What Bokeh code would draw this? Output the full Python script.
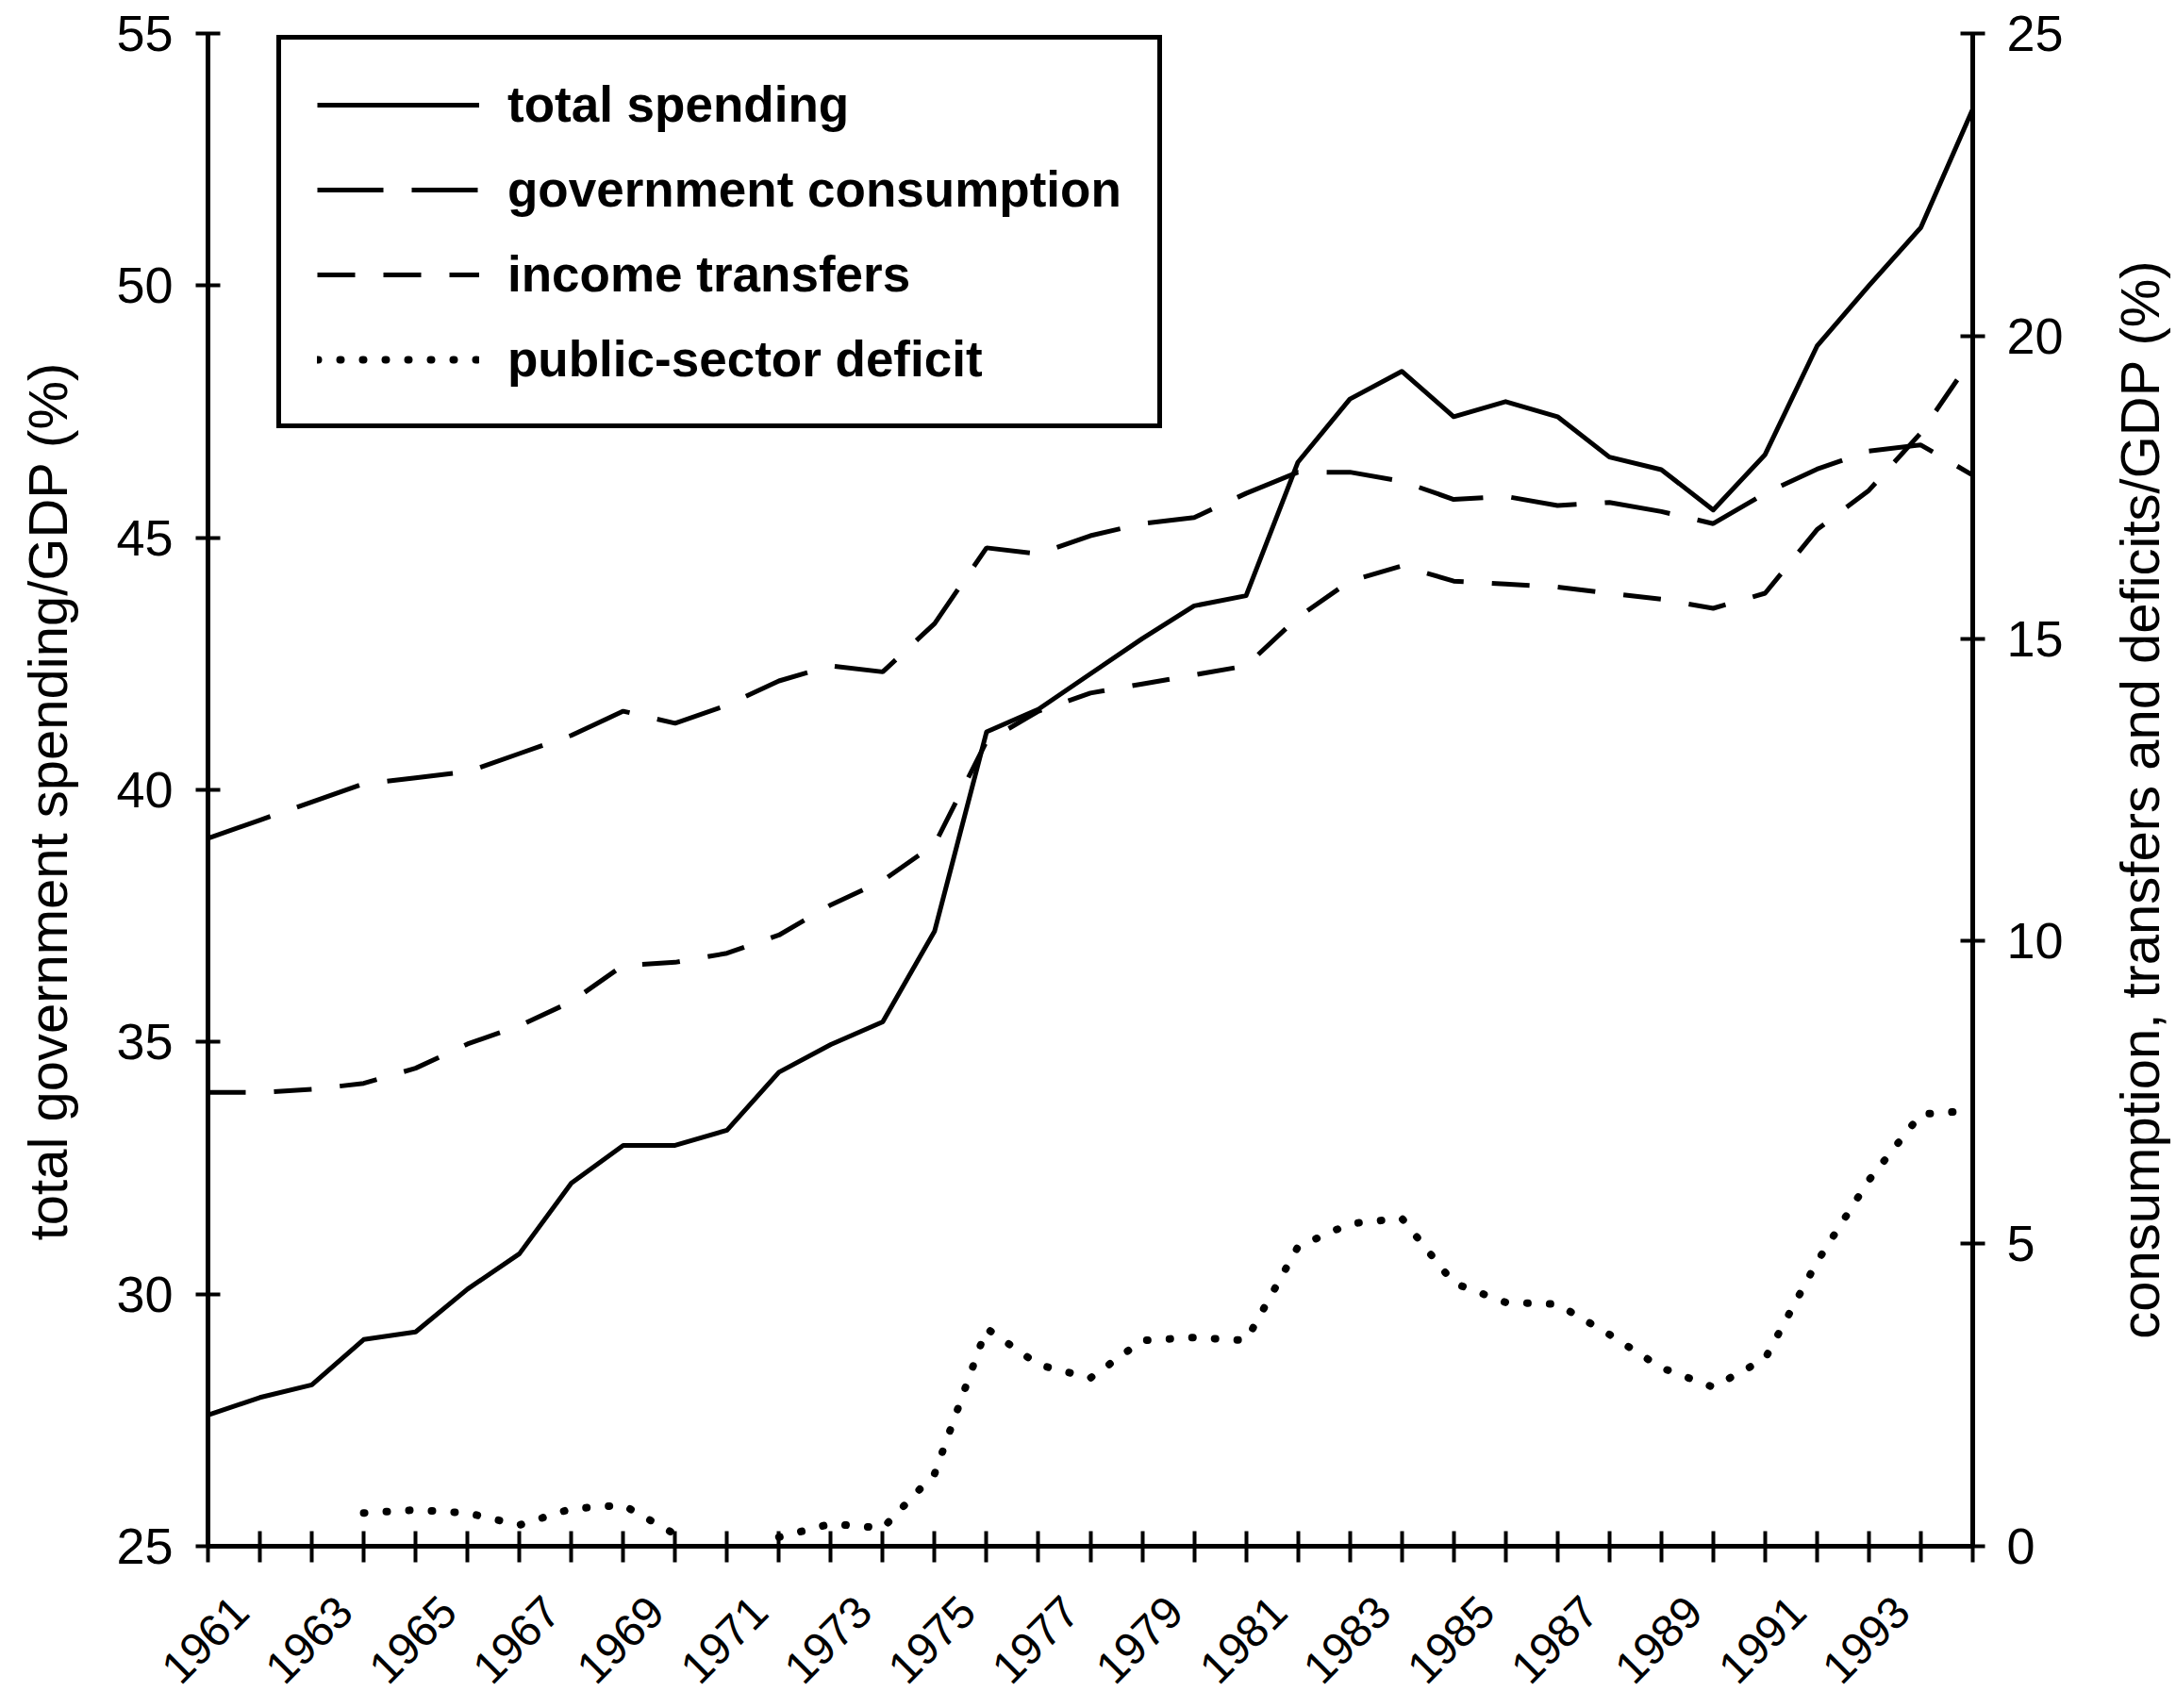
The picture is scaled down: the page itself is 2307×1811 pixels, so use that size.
import math
import numpy as np
from bokeh.plotting import figure
from bokeh.models import (Range1d, LinearAxis, FixedTicker, Legend, LegendItem,
                          ColumnDataSource)
from bokeh.embed import file_html
from bokeh.resources import INLINE
from bokeh.core.properties import value

# ---------------- data ----------------
years = [1961, 1962, 1963, 1964, 1965, 1966, 1967, 1968, 1969, 1970,
         1971, 1972, 1973, 1974, 1975, 1976, 1977, 1978, 1979, 1980,
         1981, 1982, 1983, 1984, 1985, 1986, 1987, 1988, 1989, 1990,
         1991, 1992, 1993, 1994, 1995]

# left axis: total government spending / GDP (%)
total_spending = [27.6, 27.95, 28.2, 29.1, 29.25, 30.1, 30.8, 32.2, 32.95, 32.95,
                  33.25, 34.4, 34.95, 35.4, 37.2, 41.15, 41.6, 42.3, 43.0, 43.65,
                  43.85, 46.5, 47.75, 48.3, 47.4, 47.7, 47.4, 46.6, 46.35, 45.55,
                  46.65, 48.8, 50.0, 51.15, 53.5]

# right axis: consumption, transfers and deficits / GDP (%)
gov_consumption = [11.7, 12.0, 12.3, 12.6, 12.7, 12.8, 13.1, 13.4, 13.8, 13.6,
                   13.9, 14.3, 14.55, 14.45, 15.25, 16.5, 16.4, 16.7, 16.9, 17.0,
                   17.4, 17.75, 17.75, 17.6, 17.3, 17.35, 17.2, 17.25, 17.1, 16.9,
                   17.4, 17.8, 18.1, 18.2, 17.7]

income_transfers = [7.5, 7.5, 7.55, 7.65, 7.9, 8.3, 8.6, 9.0, 9.6, 9.65,
                    9.8, 10.1, 10.6, 11.0, 11.6, 13.3, 13.8, 14.1, 14.25, 14.4,
                    14.55, 15.35, 15.95, 16.2, 15.95, 15.9, 15.85, 15.75, 15.65, 15.5,
                    15.75, 16.8, 17.45, 18.4, 19.65]

# below the zero line (not visible in the chart) -> missing
deficit = [np.nan, np.nan, np.nan, 0.55, 0.6, 0.55, 0.35, 0.62, 0.68, 0.2,
           np.nan, 0.15, 0.37, 0.3, 1.2, 3.6, 3.0, 2.78, 3.4, 3.45,
           3.4, 4.95, 5.33, 5.42, 4.35, 4.03, 4.0, 3.5, 2.95, 2.63,
           3.1, 4.7, 6.05, 7.14, 7.2]

left_ticks = [25, 30, 35, 40, 45, 50, 55]
right_ticks = [0, 5, 10, 15, 20, 25]
label_years = [1961, 1963, 1965, 1967, 1969, 1971, 1973, 1975, 1977,
               1979, 1981, 1983, 1985, 1987, 1989, 1991, 1993]
year_labels = ["1961", "1963", "1965", "1967", "1969", "1971", "1973", "1975", "1977",
               "1979", "1981", "1983", "1985", "1987", "1989", "1991", "1993"]

series_names = ["total spending", "government consumption",
                "income transfers", "public-sector deficit"]
left_title = "total government spending/GDP (%)"
right_title = "consumption, transfers and deficits/GDP (%)"

# ---------------- layout (pixels) ----------------
W, H = 2307, 1811
FL, FR, FT, FB = 220, 2091, 35, 1639       # plot area edges on the canvas
FONT = "Liberation Sans"

X0, X1 = years[0], years[-1]
Y0, Y1 = left_ticks[0], left_ticks[-1]
R0, R1 = right_ticks[0], right_ticks[-1]
px_x = (FR - FL) / (X1 - X0)
px_y = (FB - FT) / (Y1 - Y0)
px_r = (FB - FT) / (R1 - R0)

def xd(px):   # canvas x -> data x
    return X0 + (px - FL) / px_x

def yd(py):   # canvas y -> left-axis data y
    return Y0 + (FB - py) / px_y

p = figure(width=W, height=H, output_backend="svg", toolbar_location=None,
           x_range=Range1d(xd(0), xd(W)), y_range=Range1d(yd(H), yd(0)),
           x_axis_type=None, y_axis_type=None,
           min_border_left=0, min_border_right=0, min_border_top=0, min_border_bottom=0)
p.outline_line_color = None
p.background_fill_color = "white"
p.border_fill_color = "white"
p.extra_y_ranges = {"right": Range1d(R0 - (H - FB) / px_r, R1 + FT / px_r)}

# x axis: a tick every year (as minor ticks, so no tick texts are produced)
xaxis = LinearAxis(ticker=FixedTicker(ticks=[], minor_ticks=years),
                   fixed_location=Y0, bounds=(X0, X1))
xaxis.minor_tick_in = 16
xaxis.minor_tick_out = 17
xaxis.minor_tick_line_width = 4
xaxis.minor_tick_line_color = "black"
xaxis.axis_line_width = 5
xaxis.axis_line_color = "black"
p.add_layout(xaxis, "below")

yaxis = LinearAxis(ticker=FixedTicker(ticks=left_ticks), fixed_location=X0, bounds=(Y0, Y1))
yaxis.major_label_standoff = 24
p.add_layout(yaxis, "left")

raxis = LinearAxis(y_range_name="right", ticker=FixedTicker(ticks=right_ticks),
                   fixed_location=X1, bounds=(R0, R1))
raxis.major_label_standoff = 23
p.add_layout(raxis, "right")

for ax in (yaxis, raxis):
    ax.major_tick_in = 13
    ax.major_tick_out = 13
    ax.major_label_text_font_size = "54px"
    ax.axis_line_width = 5
    ax.axis_line_color = "black"
    ax.major_tick_line_width = 4
    ax.major_tick_line_color = "black"
    ax.minor_tick_line_color = None
    ax.major_label_text_color = "black"
    ax.major_label_text_font = FONT

# data
src = ColumnDataSource(dict(
    year=np.array(years, dtype=float),
    total=np.array(total_spending, dtype=float),
    cons=np.array(gov_consumption, dtype=float),
    trans=np.array(income_transfers, dtype=float),
    deficit=np.array(deficit, dtype=float),
))

r1 = p.line("year", "total", source=src, line_color="black", line_width=5,
            line_join="round")
r2 = p.line("year", "cons", source=src, y_range_name="right", line_color="black",
            line_width=5, line_dash="70 30")
r3 = p.line("year", "trans", source=src, y_range_name="right", line_color="black",
            line_width=5, line_dash="40 30")
r4 = p.line("year", "deficit", source=src, y_range_name="right", line_color="black",
            line_width=8, line_dash="1 23", line_cap="round")

# legend box: canvas x 293..1225, y 44..452
legend = Legend(items=[LegendItem(label=series_names[0], renderers=[r1]),
                       LegendItem(label=series_names[1], renderers=[r2]),
                       LegendItem(label=series_names[2], renderers=[r3]),
                       LegendItem(label=series_names[3], renderers=[r4])],
                location=(293, H - 454))
legend.glyph_width = 172
legend.glyph_height = 58
legend.label_height = 58
legend.label_standoff = 30
legend.spacing = 29
legend.padding = 38
legend.margin = 0
legend.border_line_color = "black"
legend.border_line_alpha = 1.0
legend.border_line_width = 5
legend.background_fill_color = "white"
legend.background_fill_alpha = 1.0
legend.label_text_font = FONT
legend.label_text_font_size = "53px"
legend.label_text_font_style = "bold"
legend.label_text_color = "black"
p.add_layout(legend)

# rotated year labels, centred below their ticks
p.text(x=label_years, y=[yd(1738)] * len(label_years), text=year_labels,
       angle=math.pi / 4, text_align="center", text_baseline="middle",
       x_offset=-3, text_font=value(FONT), text_font_size=value("48px"),
       text_color="black")

# axis titles, both reading bottom to top
p.text(x=[xd(50)], y=[yd(849)], text=[left_title], angle=math.pi / 2,
       text_align="center", text_baseline="middle",
       text_font=value(FONT), text_font_size=value("58px"), text_color="black")
p.text(x=[xd(2268)], y=[yd(847)], text=[right_title], angle=math.pi / 2,
       text_align="center", text_baseline="middle",
       text_font=value(FONT), text_font_size=value("58px"), text_color="black")

open("out.html", "w").write(file_html(p, INLINE))
